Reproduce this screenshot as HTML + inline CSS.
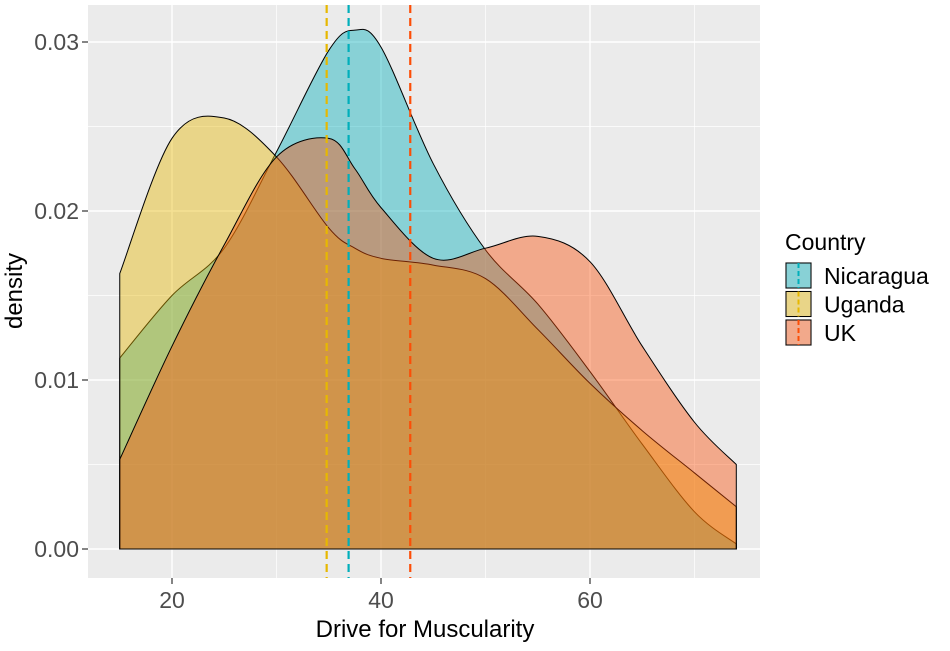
<!DOCTYPE html>
<html><head><meta charset="utf-8"><style>
body{margin:0;background:#fff;}
svg text{font-family:"Liberation Sans",sans-serif;}
</style></head><body>
<svg id="chart" width="950" height="646" xmlns="http://www.w3.org/2000/svg">
<rect x="88" y="5" width="672" height="573" fill="#ebebeb"/>
<g id="grid"></g><g id="areas"></g><g id="vlines"></g><g id="axes"></g>
<text x="425" y="637" font-size="24" text-anchor="middle" fill="#000">Drive for Muscularity</text>
<text transform="translate(22,291) rotate(-90)" font-size="24" text-anchor="middle" fill="#000">density</text>
<g id="legend">
<text x="785" y="250" font-size="23" fill="#000">Country</text>
</g>
</svg>
<script>
const xs=[15,20,25,30,35,37.5,40,45,50,55,60,65,70,74];
const nicaragua=[0.0113,0.015,0.0178,0.0235,0.0295,0.0307,0.0297,0.0228,0.0177,0.0145,0.0105,0.0062,0.0022,0.0003];
const uganda=[0.0163,0.0243,0.0255,0.0232,0.019,0.0178,0.0172,0.0168,0.016,0.013,0.0098,0.007,0.0045,0.0025];
const uk=[0.0053,0.012,0.018,0.0232,0.0243,0.0225,0.0202,0.0172,0.0178,0.0185,0.017,0.012,0.0075,0.005];
const means=[36.9,34.8,42.8];
const countries=["Nicaragua","Uganda","UK"];
const colors=["#00AFBB","#E7B800","#FC4E07"];
const xTicks=[20,40,60];
const yTicks=[0,0.01,0.02,0.03];
const yTickLabels=["0.00","0.01","0.02","0.03"];
const NS="http://www.w3.org/2000/svg";
const X=v=>172+(v-20)*10.45;
const Y=v=>549-v*16900;
function mk(t,a,p){const e=document.createElementNS(NS,t);for(const k in a)e.setAttribute(k,a[k]);document.getElementById(p).appendChild(e);return e;}
[10,30,50,70].forEach(v=>{const l=mk('line',{x1:X(v),x2:X(v),y1:5,y2:578,stroke:'#fff','stroke-width':0.7},'grid');});
[0.005,0.015,0.025].forEach(v=>{const l=mk('line',{x1:88,x2:760,y1:Y(v),y2:Y(v),stroke:'#fff','stroke-width':0.7},'grid');});
xTicks.forEach(v=>{const l=mk('line',{x1:X(v),x2:X(v),y1:5,y2:578,stroke:'#fff','stroke-width':1.4},'grid');
const t=mk('line',{x1:X(v),x2:X(v),y1:578,y2:584,stroke:'#333','stroke-width':1.2},'axes');
const tx=mk('text',{x:X(v),y:608,'font-size':23,'text-anchor':'middle',fill:'#4d4d4d'},'axes');tx.textContent=v;});
yTicks.forEach((v,i)=>{const l=mk('line',{x1:88,x2:760,y1:Y(v),y2:Y(v),stroke:'#fff','stroke-width':1.4},'grid');
const t=mk('line',{x1:82,x2:88,y1:Y(v),y2:Y(v),stroke:'#333','stroke-width':1.2},'axes');
const tx=mk('text',{x:79,y:Y(v)+8,'font-size':23,'text-anchor':'end',fill:'#4d4d4d'},'axes');tx.textContent=yTickLabels[i];});
function smooth(pts){let d='';for(let i=0;i<pts.length-1;i++){const p0=pts[Math.max(0,i-1)],p1=pts[i],p2=pts[i+1],p3=pts[Math.min(pts.length-1,i+2)];
const c1=[p1[0]+(p2[0]-p0[0])/6,p1[1]+(p2[1]-p0[1])/6],c2=[p2[0]-(p3[0]-p1[0])/6,p2[1]-(p3[1]-p1[1])/6];d+=` C${c1[0]},${c1[1]} ${c2[0]},${c2[1]} ${p2[0]},${p2[1]}`;}return d;}
[nicaragua,uganda,uk].forEach((s,i)=>{const pts=xs.map((x,j)=>[X(x),Y(s[j])]);
const d=`M${X(xs[0])},${Y(0)} L${pts[0][0]},${pts[0][1]}`+smooth(pts)+` L${X(xs[xs.length-1])},${Y(0)} Z`;
const p=mk('path',{d:d,fill:colors[i],'fill-opacity':0.42,stroke:'#000','stroke-width':1},'areas');
});
means.forEach((m,i)=>{const l=mk('line',{x1:X(m),x2:X(m),y1:5,y2:578,stroke:colors[i],'stroke-width':2.2,'stroke-dasharray':'8,5'},'vlines');
});
countries.forEach((c,i)=>{const y=262+i*28.5;
const r=mk('rect',{x:785,y:y,width:27,height:27,fill:'#ebebeb'},'legend');
const k=mk('rect',{x:786,y:y+1,width:25,height:25,fill:colors[i],'fill-opacity':0.42,stroke:'#000','stroke-width':1},'legend');
const l=mk('line',{x1:798.5,x2:798.5,y1:y+1,y2:y+26,stroke:colors[i],'stroke-width':2,'stroke-dasharray':'5,3'},'legend');
const t=mk('text',{x:824,y:y+22,'font-size':23,fill:'#000'},'legend');t.textContent=c;});
</script>
</body></html>
